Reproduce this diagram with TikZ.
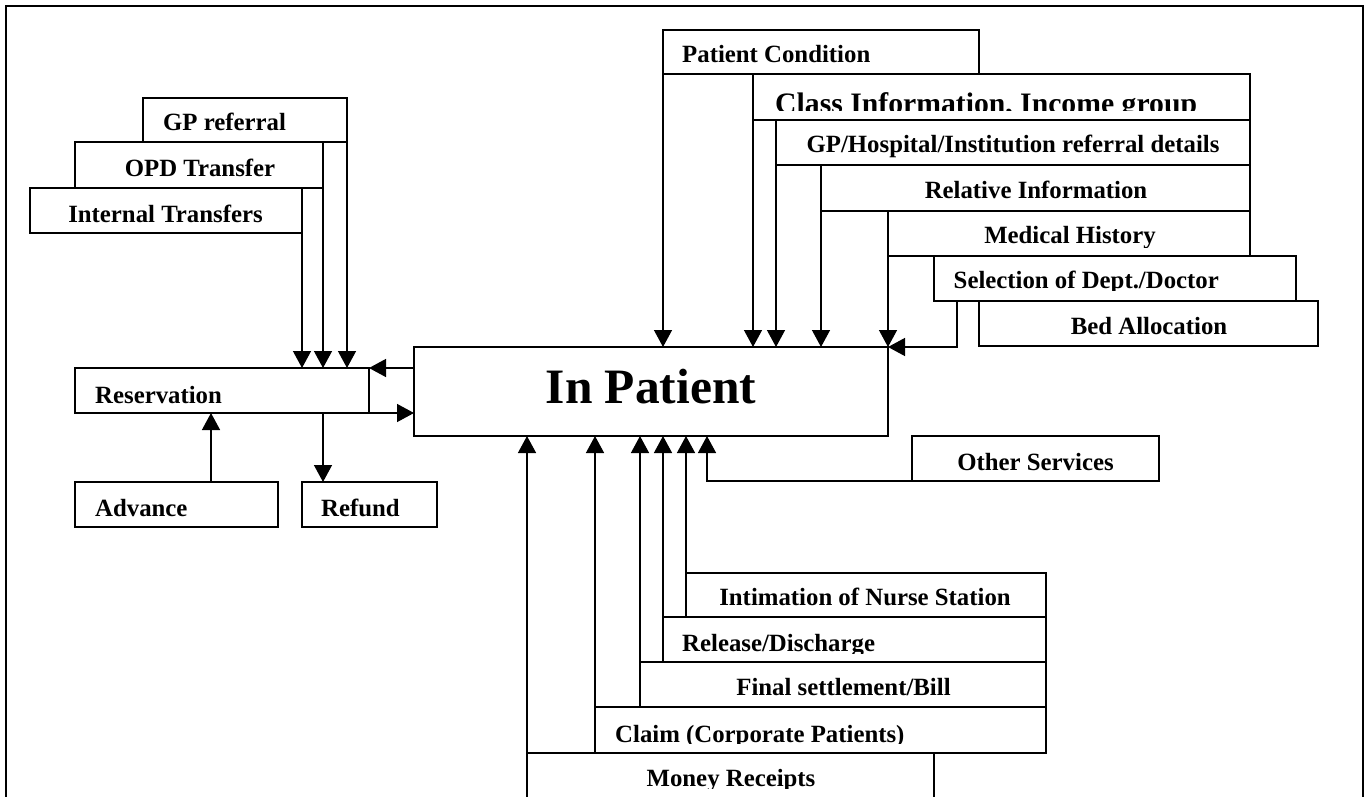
\documentclass[tikz,border=0pt]{standalone}
\usepackage{fontspec}
\setmainfont{Liberation Serif}
\usetikzlibrary{arrows.meta}
\newcommand{\lblfont}{\fontsize{24.8pt}{28pt}\selectfont\bfseries}
\newcommand{\bx}[5]{\node[box, minimum width={#4-#2}, minimum height={#5-#3}] (#1) at ({(#2+#4)/2},{(#3+#5)/2}) {};}
\begin{document}
\begin{tikzpicture}[x=1pt,y=-1pt,
  box/.style={draw, fill=white, line width=1.6pt, inner sep=0pt, outer sep=0pt, rectangle},
  lbl/.style={inner sep=0pt, font=\lblfont, text=black},
  arr/.style={draw, line width=1.4pt, -{Triangle[length=17pt,width=18pt]}},
  conn/.style={draw, line width=1.4pt}]
\clip (0,0) rectangle (1364,797);
\fill[white] (0,0) rectangle (1364,797);
\draw[line width=1.6pt] (6,800) -- (6,6) -- (1363,6) -- (1363,800);
% boxes
\bx{gp}{143}{98}{347}{142}
\bx{opd}{75}{142}{323}{188}
\bx{int}{30}{188}{302}{233}
\bx{res}{75}{368}{369}{413}
\bx{adv}{75}{482}{278}{527}
\bx{ref}{302}{482}{437}{527}
\bx{pc}{663}{30}{979}{74}
\bx{ci}{753}{74}{1250}{120}
\bx{gph}{776}{120}{1250}{165}
\bx{rel}{821}{165}{1250}{211}
\bx{mh}{888}{211}{1250}{256}
\bx{sel}{934}{256}{1296}{301}
\bx{bed}{979}{301}{1318}{346}
\bx{ip}{414}{347}{888}{436}
\bx{os}{912}{436}{1159}{481}
\bx{ins}{686}{573}{1046}{617}
\bx{rd}{663}{617}{1046}{662}
\bx{fs}{640}{662}{1046}{707}
\bx{cl}{595}{707}{1046}{753}
\bx{mr}{527}{753}{934}{805}
% labels
\node[lbl, anchor=base] (tgp) at (224.5,131) {GP referral};
\node[lbl, anchor=base] (topd) at (200,176) {OPD Transfer};
\node[lbl, anchor=base] (tint) at (165.5,222) {Internal Transfers};
\node[lbl, anchor=base west] (tres) at (95,403) {Reservation};
\node[lbl, anchor=base west] (tadv) at (95,516) {Advance};
\node[lbl, anchor=base west] (tref) at (321,516) {Refund};
\node[lbl, anchor=base west] (tpc) at (682,63) {Patient Condition};
\begin{scope}
\clip (753,74) rectangle (1250,110.5);
\node[lbl, anchor=base west, font=\fontsize{29.7pt}{33pt}\selectfont\bfseries] (tci) at (775,113.5) {Class Information, Income group};
\end{scope}
\node[lbl, anchor=base] (tgph) at (1013,152) {GP/Hospital/Institution referral details};
\node[lbl, anchor=base] (trel) at (1036,198) {Relative Information};
\begin{scope}
\clip (888,211) rectangle (1250,247);
\node[lbl, anchor=base] (tmh) at (1070,243) {Medical History};
\end{scope}
\begin{scope}
\clip (934,256) rectangle (1296,290.5);
\node[lbl, anchor=base west] (tsel) at (953.5,288.5) {Selection of Dept./Doctor};
\end{scope}
\node[lbl, anchor=base] (tbed) at (1149,334) {Bed Allocation};
\node[lbl, anchor=base, font=\fontsize{49.5pt}{55pt}\selectfont\bfseries] (tip) at (651,403) {In Patient};
\node[lbl, anchor=base] (tos) at (1035.5,470) {Other Services};
\node[lbl, anchor=base] (tins) at (865,605) {Intimation of Nurse Station};
\begin{scope}
\clip (663,617) rectangle (1046,653);
\node[lbl, anchor=base west] (trd) at (682,651) {Release/Discharge};
\end{scope}
\node[lbl, anchor=base] (tfs) at (843.5,695) {Final settlement/Bill};
\begin{scope}
\clip (595,707) rectangle (1046,743.5);
\node[lbl, anchor=base west] (tcl) at (615,742) {Claim (Corporate Patients)};
\end{scope}
\begin{scope}
\clip (527,753) rectangle (934,788);
\node[lbl, anchor=base] (tmr) at (731,786) {Money Receipts};
\end{scope}
% helper coordinates
\coordinate (advT) at (211,482);
\coordinate (refT) at (323,482);
\coordinate (selB) at (957,301);
% left connectors
\draw[arr] (gp.south east) -- (gp.south east |- res.north);
\draw[arr] (opd.south east) -- (opd.south east |- res.north);
\draw[arr] (int.south east) -- (int.south east |- res.north);
\draw[arr] (ip.west |- res.north) -- (res.north east);
\draw[arr] (res.south east) -- (ip.west |- res.south);
\draw[arr] (advT) -- (advT |- res.south);
\draw[arr] (refT |- res.south) -- (refT);
% top connectors
\draw[arr] (pc.south west) -- (pc.south west |- ip.north);
\draw[arr] (ci.south west) -- (ci.south west |- ip.north);
\draw[arr] (gph.south west) -- (gph.south west |- ip.north);
\draw[arr] (rel.south west) -- (rel.south west |- ip.north);
\draw[arr] (mh.south west) -- (mh.south west |- ip.north);
\draw[arr] (selB) -- (selB |- ip.north) -- (ip.north east);
% bottom connectors
\draw[arr] (os.south west) -| ([xshift=56pt]ip.south);
\draw[arr] (ins.north west) -- (ins.north west |- ip.south);
\draw[arr] (rd.north west) -- (rd.north west |- ip.south);
\draw[arr] (fs.north west) -- (fs.north west |- ip.south);
\draw[arr] (cl.north west) -- (cl.north west |- ip.south);
\draw[arr] (mr.north west) -- (mr.north west |- ip.south);
\end{tikzpicture}
\end{document}
